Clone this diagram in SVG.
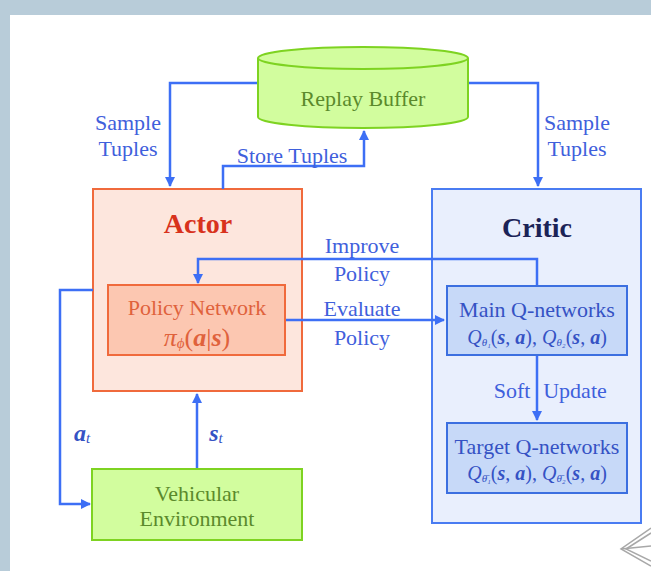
<svg xmlns="http://www.w3.org/2000/svg" width="651" height="571" viewBox="0 0 651 571">
<defs>
<style>
text{text-anchor:middle;dominant-baseline:central}
.lbl{font-size:22px;fill:#3f60dc}
.con{fill:none;stroke:#3d6ff5;stroke-width:2.5}
.ttl{font-size:28px;font-weight:bold}
.nt{font-size:22px}
.m{font-size:26px;font-style:italic}
.sub{font-size:15px}
</style>
<marker id="ah" viewBox="0 0 10 10" refX="9" refY="5" markerWidth="4" markerHeight="4" orient="auto" markerUnits="strokeWidth">
<path d="M0,0L10,5L0,10z" fill="#3d6ff5"/>
</marker>
</defs>
<rect x="0" y="0" width="651" height="571" fill="#b8ccd9"/>
<rect x="10" y="15" width="641" height="556" fill="#ffffff"/>
<g id="critic">
<rect x="432" y="189" width="209" height="334" fill="#e9effd" stroke="#4a7cf2" stroke-width="2"/>
<text x="537" y="227" class="ttl" fill="#1b2357" font-family="Liberation Serif">Critic</text>
</g>
<g id="actor">
<rect x="93" y="189" width="209" height="202" fill="#fde6dd" stroke="#f06a3c" stroke-width="2"/>
<text x="198" y="223" class="ttl" fill="#d8321c" font-family="Liberation Serif">Actor</text>
</g>

<g id="connectors">
<path class="con" d="M258,83H170V186" marker-end="url(#ah)"/>
<path class="con" d="M223,189V166H364V131" marker-end="url(#ah)"/>
<path class="con" d="M468,83H538V186" marker-end="url(#ah)"/>
<path class="con" d="M537,286V259H198V283" marker-end="url(#ah)"/>
<path class="con" d="M285,320H444" marker-end="url(#ah)"/>
<path class="con" d="M537,355V420" marker-end="url(#ah)"/>
<path class="con" d="M93,290H60V504H90" marker-end="url(#ah)"/>
<path class="con" d="M197,469V394" marker-end="url(#ah)"/>
</g>

<g id="replay-buffer">
<path d="M258,58V117A105,11 0 0 0 468,117V58" fill="#d2fd9e" stroke="#7ed321" stroke-width="2"/>
<ellipse cx="363" cy="58" rx="105" ry="11" fill="#d2fd9e" stroke="#7ed321" stroke-width="2"/>
<text x="363" y="98" class="nt" fill="#5b8a2c" font-family="Liberation Serif">Replay Buffer</text>
</g>

<g id="policy-network">
<rect x="108" y="285" width="177" height="70" fill="#fcc7b1" stroke="#f06a3c" stroke-width="2"/>
<text x="197" y="307" class="nt" fill="#e0623c" font-family="Liberation Serif">Policy Network</text>
<text x="197" y="337" class="m" fill="#e0623c" font-family="Liberation Serif">π<tspan class="sub" dy="6">ϕ</tspan><tspan dy="-6" font-style="normal">(</tspan><tspan font-weight="bold">a</tspan><tspan font-style="normal">|</tspan><tspan font-weight="bold">s</tspan><tspan font-style="normal">)</tspan></text>
</g>

<g id="main-q">
<rect x="447" y="286" width="180" height="69" fill="#c7d9f8" stroke="#3c6fe0" stroke-width="2"/>
<text x="537" y="309" class="nt" fill="#3552c4" font-family="Liberation Serif">Main Q-networks</text>
<text x="537" y="337" font-size="20" font-style="italic" fill="#3552c4" font-family="Liberation Serif">Q<tspan font-size="11" dy="5">θ₁</tspan><tspan dy="-5" font-style="normal">(</tspan><tspan font-weight="bold">s</tspan><tspan font-style="normal">, </tspan><tspan font-weight="bold">a</tspan><tspan font-style="normal">), </tspan>Q<tspan font-size="11" dy="5">θ₂</tspan><tspan dy="-5" font-style="normal">(</tspan><tspan font-weight="bold">s</tspan><tspan font-style="normal">, </tspan><tspan font-weight="bold">a</tspan><tspan font-style="normal">)</tspan></text>
</g>

<g id="target-q">
<rect x="447" y="423" width="180" height="70" fill="#c7d9f8" stroke="#3c6fe0" stroke-width="2"/>
<text x="537" y="446" class="nt" fill="#3552c4" font-family="Liberation Serif">Target Q-networks</text>
<text x="537" y="473" font-size="20" font-style="italic" fill="#3552c4" font-family="Liberation Serif">Q<tspan font-size="11" dy="5">θ̄₁</tspan><tspan dy="-5" font-style="normal">(</tspan><tspan font-weight="bold">s</tspan><tspan font-style="normal">, </tspan><tspan font-weight="bold">a</tspan><tspan font-style="normal">), </tspan>Q<tspan font-size="11" dy="5">θ̄₂</tspan><tspan dy="-5" font-style="normal">(</tspan><tspan font-weight="bold">s</tspan><tspan font-style="normal">, </tspan><tspan font-weight="bold">a</tspan><tspan font-style="normal">)</tspan></text>
</g>

<g id="vehicular-environment">
<rect x="92" y="469" width="210" height="71" fill="#d2fd9e" stroke="#7ed321" stroke-width="2"/>
<text x="197" y="493" class="nt" fill="#5b8a2c" font-family="Liberation Serif">Vehicular</text>
<text x="197" y="518" class="nt" fill="#5b8a2c" font-family="Liberation Serif">Environment</text>
</g>

<g id="labels">
<text x="128" y="122" class="lbl" font-family="Liberation Serif">Sample</text>
<text x="128" y="148" class="lbl" font-family="Liberation Serif">Tuples</text>
<text x="577" y="122" class="lbl" font-family="Liberation Serif">Sample</text>
<text x="577" y="148" class="lbl" font-family="Liberation Serif">Tuples</text>
<text x="292" y="155" class="lbl" font-family="Liberation Serif">Store Tuples</text>
<text x="362" y="245" class="lbl" font-family="Liberation Serif">Improve</text>
<text x="362" y="273" class="lbl" font-family="Liberation Serif">Policy</text>
<text x="362" y="308" class="lbl" font-family="Liberation Serif">Evaluate</text>
<text x="362" y="337" class="lbl" font-family="Liberation Serif">Policy</text>
<text x="512" y="390" class="lbl" font-family="Liberation Serif">Soft</text>
<text x="575" y="390" class="lbl" font-family="Liberation Serif">Update</text>
<text x="82" y="433" font-size="24" font-style="italic" font-weight="bold" fill="#3552c4" font-family="Liberation Serif">a<tspan font-size="15" dy="5" font-weight="normal">t</tspan></text>
<text x="216" y="433" font-size="24" font-style="italic" font-weight="bold" fill="#3552c4" font-family="Liberation Serif">s<tspan font-size="15" dy="5" font-weight="normal">t</tspan></text>
</g>
<g id="corner-mark" fill="none" stroke="#a8a8a8" stroke-width="1.5">
<path d="M651,528L621,549L651,566"/>
<path d="M651,533L626,549L651,561"/>
<path d="M621,549L651,546"/>
</g>
</svg>
